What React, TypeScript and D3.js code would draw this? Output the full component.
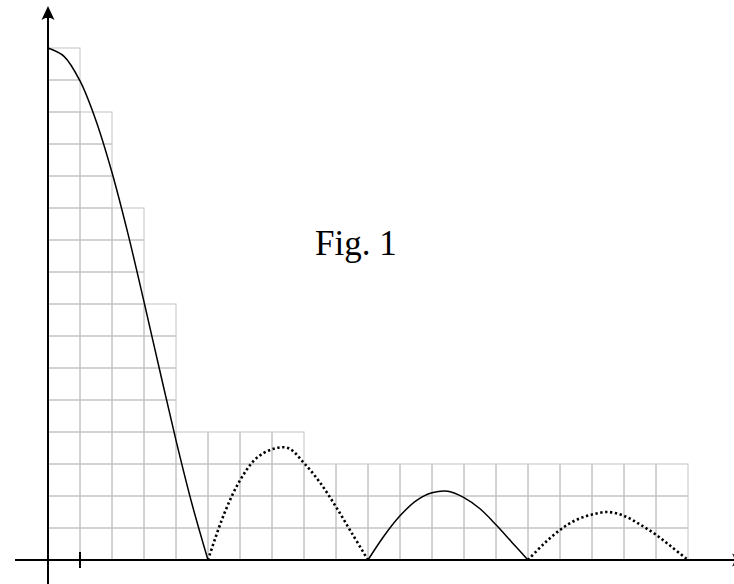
import React, { useEffect, useRef } from 'react';
import * as d3 from 'd3';

// staircase of grid cells: how many cells tall each column is
const columnHeights = [16, 14, 11, 8, 4, 4, 4, 4, 3, 3, 3, 3, 3, 3, 3, 3, 3, 3, 3, 3];

// curve samples (in grid cells), every half cell
const curveX = [
  0, 0.5, 1, 1.5, 2, 2.5, 3, 3.5, 4, 4.5, 5,
  5.5, 6, 6.5, 7, 7.5, 8, 8.5, 9, 9.5, 10,
  10.5, 11, 11.5, 12, 12.5, 13, 13.5, 14, 14.5, 15,
  15.5, 16, 16.5, 17, 17.5, 18, 18.5, 19, 19.5, 20,
];
const curveY = [
  16, 15.74, 14.97, 13.73, 12.11, 10.19, 8.07, 5.89, 3.74, 1.75, 0,
  1.43, 2.49, 3.17, 3.46, 3.5, 3.03, 2.42, 1.66, 0.83, 0,
  0.75, 1.38, 1.85, 2.1, 2.15, 1.95, 1.6, 1.1, 0.55, 0,
  0.51, 0.94, 1.25, 1.42, 1.5, 1.38, 1.11, 0.79, 0.4, 0,
];
// each lobe: [first index, last index, dotted?]
const lobes: [number, number, boolean][] = [
  [0, 10, false],
  [10, 20, true],
  [20, 30, false],
  [30, 40, true],
];
const figLabel = 'Fig. 1';

export default function App() {
  const ref = useRef<SVGSVGElement>(null);

  useEffect(() => {
    const width = 734;
    const height = 584;
    const svg = d3.select(ref.current);
    svg.selectAll('*').remove();
    svg.attr('width', width).attr('height', height);

    const x = d3.scaleLinear().domain([0, 20]).range([48, 688]);
    const y = d3.scaleLinear().domain([0, 16]).range([560, 48]);

    // grid cells
    const cells: { c: number; r: number }[] = [];
    columnHeights.forEach((h, c) => {
      for (let r = 0; r < h; r++) cells.push({ c, r });
    });
    svg.append('g')
      .selectAll('rect')
      .data(cells)
      .enter().append('rect')
      .attr('x', d => x(d.c))
      .attr('y', d => y(d.r + 1))
      .attr('width', x(1) - x(0))
      .attr('height', y(0) - y(1))
      .attr('fill', 'none')
      .attr('stroke', '#c4c4c4')
      .attr('stroke-width', 1);

    // axes
    const axisColor = '#000';
    svg.append('line')
      .attr('x1', 15).attr('x2', 734)
      .attr('y1', y(0)).attr('y2', y(0))
      .attr('stroke', axisColor).attr('stroke-width', 2);
    svg.append('line')
      .attr('x1', x(0)).attr('x2', x(0))
      .attr('y1', 584).attr('y2', 16)
      .attr('stroke', axisColor).attr('stroke-width', 2);
    // tick
    svg.append('line')
      .attr('x1', x(1)).attr('x2', x(1))
      .attr('y1', y(0) - 8).attr('y2', y(0) + 8)
      .attr('stroke', axisColor).attr('stroke-width', 2);

    // arrow heads
    const up = d3.path();
    up.moveTo(x(0), 6);
    up.lineTo(x(0) + 6.5, 20);
    up.quadraticCurveTo(x(0), 15.5, x(0) - 6.5, 20);
    up.closePath();
    svg.append('path').attr('d', up.toString()).attr('fill', axisColor);

    const right = d3.path();
    right.moveTo(746, y(0));
    right.lineTo(732, y(0) - 6.5);
    right.quadraticCurveTo(736.5, y(0), 732, y(0) + 6.5);
    right.closePath();
    svg.append('path').attr('d', right.toString()).attr('fill', axisColor);

    // curve
    const line = d3.line<number>()
      .x(i => x(curveX[i]))
      .y(i => y(curveY[i]))
      .curve(d3.curveCatmullRom);

    lobes.forEach(([a, b, dotted]) => {
      const idx = d3.range(a, b + 1);
      const p = svg.append('path')
        .attr('d', line(idx))
        .attr('fill', 'none')
        .attr('stroke', '#000');
      if (dotted) {
        p.attr('stroke-width', 2.6)
          .attr('stroke-dasharray', '2.3 2.6');
      } else {
        p.attr('stroke-width', 1.5);
      }
    });

    svg.append('text')
      .attr('x', 315)
      .attr('y', 255)
      .attr('font-family', '"Liberation Serif", "Times New Roman", Times, serif')
      .attr('font-size', 35)
      .attr('fill', '#000')
      .text(figLabel);
  }, []);

  return (
    <div style={{ position: 'absolute', left: 0, top: 0 }}>
      <svg ref={ref} style={{ display: 'block' }}></svg>
    </div>
  );
}
